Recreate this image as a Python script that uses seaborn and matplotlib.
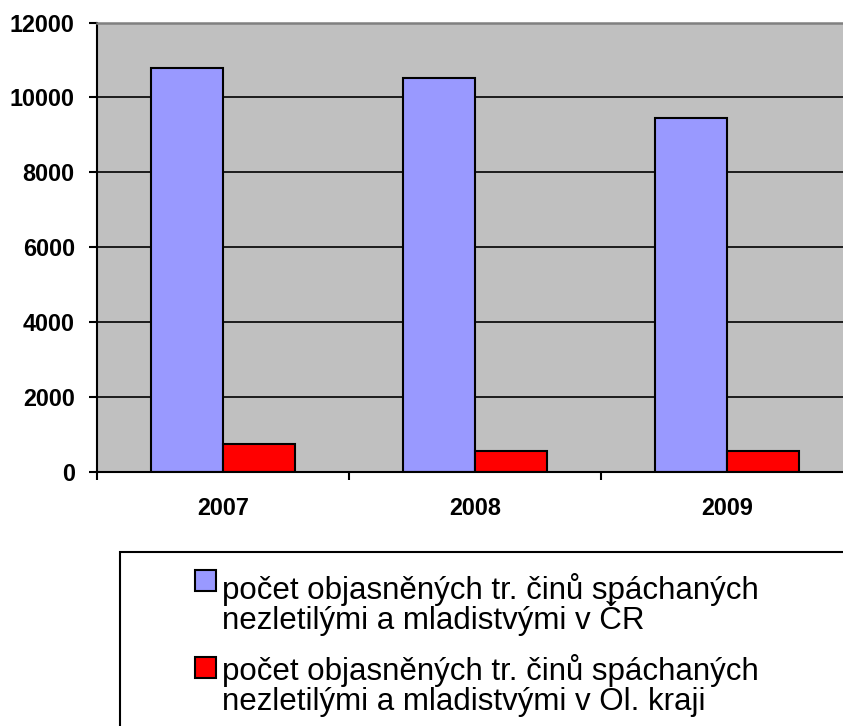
import matplotlib
matplotlib.use("Agg")
import matplotlib.pyplot as plt
import seaborn as sns
import pandas as pd
from matplotlib.patches import Rectangle
from matplotlib.legend_handler import HandlerPatch

years = ["2007", "2008", "2009"]
cr_values = [10780, 10515, 9450]
ol_values = [748, 572, 560]
series_names = [
    "počet objasněných tr. činů spáchaných\nnezletilými a mladistvými v ČR",
    "počet objasněných tr. činů spáchaných\nnezletilými a mladistvými v Ol. kraji",
]
colors = ["#9999FF", "#FF0000"]
y_ticks = [0, 2000, 4000, 6000, 8000, 10000, 12000]

df = pd.DataFrame({
    "rok": years * 2,
    "pocet": cr_values + ol_values,
    "serie": [series_names[0]] * 3 + [series_names[1]] * 3,
})

plt.rcParams["font.family"] = ["Liberation Sans", "DejaVu Sans"]

fig = plt.figure(figsize=(8.43, 7.26), dpi=100)
ax = fig.add_axes([97 / 843, 1 - 472 / 726, 756 / 843, 449.5 / 726])
ax.set_facecolor("#C0C0C0")
ax.set_axisbelow(True)

sns.barplot(data=df, x="rok", y="pocet", hue="serie", palette=colors,
            width=0.575, saturation=1, edgecolor="black", linewidth=1.5, ax=ax)

ax.set_xlim(-0.5, 2.5)
ax.set_ylim(0, 12000)
ax.set_yticks(y_ticks)
ax.set_xlabel("")
ax.set_ylabel("")
ax.grid(axis="y", color="black", linewidth=1.2)
ax.get_ygridlines()[-1].set_visible(False)

for side in ["left", "bottom"]:
    ax.spines[side].set_color("black")
    ax.spines[side].set_linewidth(1.5)
ax.spines["top"].set_color("#808080")
ax.spines["top"].set_linewidth(1.8)
ax.spines["right"].set_visible(False)

ax.tick_params(axis="y", direction="out", length=6, width=1.5, pad=10, labelsize=16.8)
ax.tick_params(axis="x", which="major", length=0, pad=18, labelsize=16.8)
ax.set_xticks([-0.5, 0.5, 1.5, 2.5], minor=True)
ax.tick_params(axis="x", which="minor", direction="out", length=6, width=1.5)
for lbl in ax.get_xticklabels() + ax.get_yticklabels():
    lbl.set_fontweight("bold")

handles, labels = ax.get_legend_handles_labels()
ax.get_legend().remove()

# legend square sits next to the first line of each label
lifts = {handles[0]: 17.5, handles[1]: 13.5}


def raised_square(legend, orig_handle, xdescent, ydescent, width, height, fontsize):
    return Rectangle((-xdescent, -ydescent + lifts[orig_handle]), width, height)


fig.patches.append(Rectangle((120 / 843, -0.1), 1.0, (1 - 552 / 726) + 0.1,
                             transform=fig.transFigure, facecolor="white",
                             edgecolor="black", linewidth=1.5, zorder=-1))
leg = fig.legend(handles, labels, loc="upper left",
                 bbox_to_anchor=(195 / 843, 1 - 572.5 / 726), frameon=False,
                 fontsize=22.5, handlelength=0.67, handleheight=0.67,
                 handletextpad=0.2, labelspacing=0.6, borderpad=0, borderaxespad=0,
                 handler_map={h: HandlerPatch(patch_func=raised_square) for h in handles})
for h in leg.legend_handles:
    h.set_linewidth(1.5)
    h.set_edgecolor("black")
leg.get_texts()[0].set_linespacing(0.83)
leg.get_texts()[1].set_linespacing(0.99)

fig.savefig("out.png", dpi=100)
